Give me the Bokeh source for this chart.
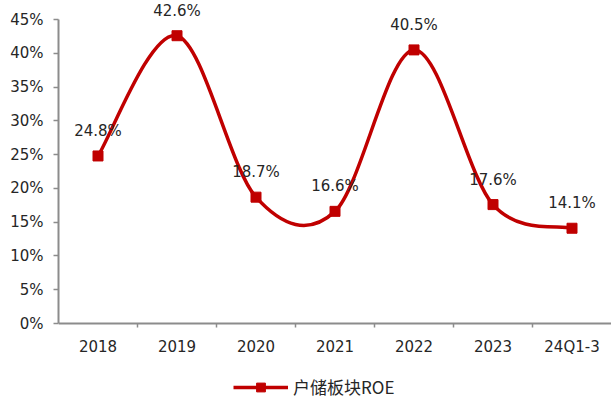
from bokeh.plotting import figure
from bokeh.models import (ColumnDataSource, FixedTicker, Range1d, LabelSet,
                          Legend, LegendItem)
from bokeh.core.properties import value
from bokeh.embed import file_html
from bokeh.resources import INLINE

# Residential storage sector ROE by period
categories = ["2018", "2019", "2020", "2021", "2022", "2023", "24Q1-3"]
roe = [24.8, 42.6, 18.7, 16.6, 40.5, 17.6, 14.1]
roe_labels = ["24.8%", "42.6%", "18.7%", "16.6%", "40.5%", "17.6%", "14.1%"]
y_ticks = [0, 5, 10, 15, 20, 25, 30, 35, 40, 45]
y_tick_labels = ["0%", "5%", "10%", "15%", "20%", "25%", "30%", "35%", "40%", "45%"]
series_name = "户储板块ROE"

RED = "#C00000"
AXIS_GRAY = "#8C8C8C"
TEXT = "#262626"
FONT = "DejaVu Sans"

W, H = 611, 401
LEFT = 58                 # room for the y tick labels
TOP_PAD, BOTTOM_PAD = 19, 78   # space above 45% and below 0% inside the frame
n = len(categories)
xs = [i + 0.5 for i in range(n)]

# the frame fills the whole page height; axes are pinned to 0 so that
# labels above the top tick and the legend below the axis are not clipped
px_per_unit = (H - TOP_PAD - BOTTOM_PAD) / (y_ticks[-1] - y_ticks[0])
y_lo = y_ticks[0] - BOTTOM_PAD / px_per_unit
y_hi = y_ticks[-1] + TOP_PAD / px_per_unit

p = figure(width=W, height=H, output_backend="svg", toolbar_location=None,
           x_range=Range1d(0, n), y_range=Range1d(y_lo, y_hi),
           min_border_left=LEFT, min_border_right=0, min_border_top=0,
           min_border_bottom=0)
p.outline_line_color = None
p.xgrid.visible = False
p.ygrid.visible = False
p.background_fill_color = "white"
p.border_fill_color = "white"

# smooth curve: cubic Bezier segments with Catmull-Rom style control points
x0, y0, x1, y1, cx0, cy0, cx1, cy1 = [], [], [], [], [], [], [], []
for i in range(n - 1):
    prv = max(i - 1, 0)
    nxt = min(i + 2, n - 1)
    x0.append(xs[i]); y0.append(roe[i])
    x1.append(xs[i + 1]); y1.append(roe[i + 1])
    cx0.append(xs[i] + (xs[i + 1] - xs[prv]) / 6)
    cy0.append(roe[i] + (roe[i + 1] - roe[prv]) / 6)
    cx1.append(xs[i + 1] - (xs[nxt] - xs[i]) / 6)
    cy1.append(roe[i + 1] - (roe[nxt] - roe[i]) / 6)

p.bezier(x0=x0, y0=y0, x1=x1, y1=y1, cx0=cx0, cy0=cy0, cx1=cx1, cy1=cy1,
         line_color=RED, line_width=3.5)

src = ColumnDataSource(data=dict(x=xs, y=roe, label=roe_labels))
marks = p.scatter("x", "y", source=src, marker="square", size=10,
                  fill_color=RED, line_color=RED)

labels = LabelSet(x="x", y="y", text="label", source=src, y_offset=25,
                  text_align="center", text_baseline="middle",
                  text_font=value(FONT), text_font_size="15px", text_color=TEXT)
p.add_layout(labels)

# x axis: labels at category centres, ticks at category boundaries
p.xaxis.fixed_location = 0
p.xaxis.ticker = FixedTicker(ticks=xs, minor_ticks=list(range(1, n)))
p.xaxis.major_label_overrides = {x: c for x, c in zip(xs, categories)}
p.xaxis.major_tick_line_color = None
p.xaxis.minor_tick_line_color = AXIS_GRAY
p.xaxis.minor_tick_line_width = 1.5
p.xaxis.minor_tick_in = 0
p.xaxis.minor_tick_out = 4
p.xaxis.major_label_standoff = 8
p.xaxis.axis_line_color = AXIS_GRAY
p.xaxis.axis_line_width = 2

p.yaxis.bounds = (y_ticks[0], y_ticks[-1])
p.yaxis.ticker = FixedTicker(ticks=y_ticks)
p.yaxis.major_label_overrides = {t: s for t, s in zip(y_ticks, y_tick_labels)}
p.yaxis.major_tick_line_color = AXIS_GRAY
p.yaxis.major_tick_line_width = 1.5
p.yaxis.major_tick_in = 0
p.yaxis.major_tick_out = 5
p.yaxis.minor_tick_line_color = None
p.yaxis.major_label_standoff = 10
p.yaxis.axis_line_color = AXIS_GRAY
p.yaxis.axis_line_width = 2

for ax in (p.xaxis, p.yaxis):
    ax.major_label_text_font = FONT
    ax.major_label_text_font_size = "15px"
    ax.major_label_text_color = TEXT

# legend key: a line renderer with no visible points plus the real markers
key_line = p.line(x=[float("nan")], y=[float("nan")], line_color=RED, line_width=3.5)
legend = Legend(items=[LegendItem(label=series_name, renderers=[key_line, marks])],
                location=(175, 2), orientation="horizontal",
                glyph_width=55, glyph_height=22, label_standoff=5,
                padding=0, margin=0, spacing=0,
                border_line_color=None, background_fill_alpha=0,
                label_text_font="Noto Sans CJK SC", label_text_font_size="17px",
                label_text_color=TEXT)
p.add_layout(legend)

open("out.html", "w").write(file_html(p, INLINE))
